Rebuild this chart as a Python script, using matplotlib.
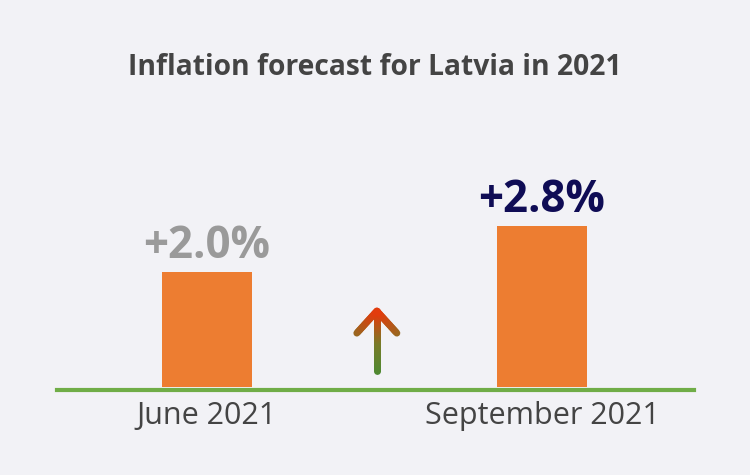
import numpy as np
import matplotlib.pyplot as plt
from matplotlib.colors import LinearSegmentedColormap

categories = ["June 2021", "September 2021"]
values = [2.0, 2.8]
value_labels = ["+2.0%", "+2.8%"]
label_colors = ["#9a9a9a", "#0f0c55"]
title = "Inflation forecast for Latvia in 2021"

bg = "#f2f2f6"
plt.rcParams['font.family'] = ['Open Sans', 'DejaVu Sans']

fig = plt.figure(figsize=(7.5, 4.75), dpi=100, facecolor=bg)
ax = fig.add_axes([57 / 750, 88 / 475, (694 - 57) / 750, 287.5 / 475])
ax.set_facecolor(bg)

x = np.arange(len(categories))
ax.bar(x, values, width=90 / 335, color="#ed7d31", zorder=2)
for xi, v, lab, c in zip(x, values, value_labels, label_colors):
    ax.text(xi, v + 0.25, lab, ha="center", va="baseline", fontsize=31.5,
            fontweight="bold", color=c)

ax.set_xlim(-150 / 335, 1 + 152 / 335)
ax.set_ylim(0, 5)
ax.set_xticks(x)
ax.set_xticklabels(categories, fontsize=22, color="#444444")
ax.tick_params(axis="x", length=0, pad=10)
ax.set_yticks([])
for s in ["top", "right", "left", "bottom"]:
    ax.spines[s].set_visible(False)
ax.axhline(-3 / 57.5, color="#70ad47", lw=3, clip_on=False, zorder=1)

# gradient arrow between the bars
cmap = LinearSegmentedColormap.from_list("arr", ["#4f8a32", "#7a7a28", "#e53a0c"])
ax_x = 0.507
y0, y1 = 0.28, 1.32
n = 60
ys = np.linspace(y0, y1, n + 1)
for i in range(n):
    ax.plot([ax_x, ax_x], [ys[i], ys[i + 1]], color=cmap(i / n), lw=5,
            solid_capstyle="round", zorder=3)
hw = 20 / 335
hh = 22 / 57.5
for dx in (-hw, hw):
    seg = np.linspace(0, 1, 15)
    for j in range(len(seg) - 1):
        xa = ax_x + dx * (1 - seg[j])
        xb = ax_x + dx * (1 - seg[j + 1])
        ya = y1 - hh * (1 - seg[j])
        yb = y1 - hh * (1 - seg[j + 1])
        t = 1 - hh * (1 - (seg[j] + seg[j + 1]) / 2) / (y1 - y0)
        ax.plot([xa, xb], [ya, yb], color=cmap(t), lw=5,
                solid_capstyle="round", zorder=3)

fig.text(0.5, 1 - 75 / 475, title, ha="center", va="baseline", fontsize=20.3,
         fontweight="bold", color="#444444")

fig.savefig("out.png", dpi=100, facecolor=bg)
